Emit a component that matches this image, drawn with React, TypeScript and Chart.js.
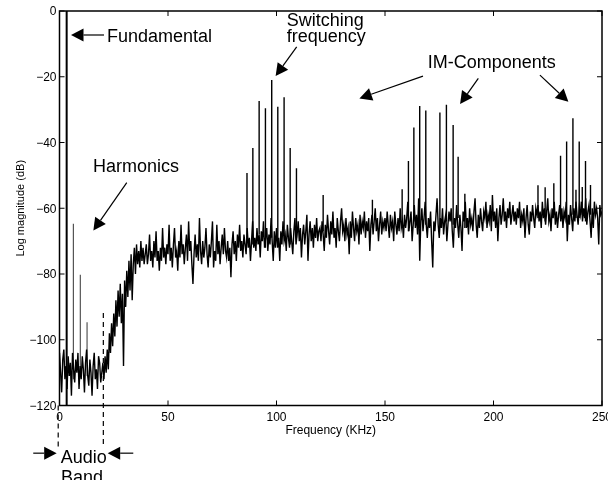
import React, { useEffect, useRef } from "react";
import { Chart, registerables } from "chart.js";

Chart.register(...registerables);

// ---- Spectrum noise floor (dB), sampled every 0.5 kHz from 0 to 250 kHz ----
const NOISE_START_KHZ = 0;
const NOISE_STEP_KHZ = 0.5;
const noiseFloorDb = [
  -104,-110,-116,-106,-103,-112,-108,-115,-105,-111,-107,-117,-104,-109,-113,-106,-110,-104,-115,-108,
  -112,-105,-109,-116,-107,-103,-111,-114,-106,-110,-117,-108,-104,-112,-109,-115,-105,-107,-113,-110,
  -107,-112,-105,-110,-103,-109,-98,-104,-95,-102,-92,-99,-88,-96,-85,-93,-83,-95,-86,-108,
  -82,-90,-79,-87,-76,-85,-74,-88,-77,-72,-80,-71,-77,-73,-78,-70,-76,-72,-77,-74,
  -71,-77,-74,-68,-76,-73,-78,-70,-75,-67,-76,-73,-79,-72,-76,-66,-75,-72,-77,-71,
  -74,-65,-76,-72,-78,-71,-66,-75,-73,-79,-70,-75,-65,-74,-71,-77,-72,-68,-76,-64,
  -73,-70,-77,-83,-74,-68,-75,-71,-76,-63,-73,-77,-70,-75,-72,-66,-74,-78,-71,-75,
  -70,-64,-78,-73,-76,-65,-74,-70,-77,-72,-68,-74,-66,-73,-75,-70,-76,-72,-81,-71,
  -67,-74,-70,-76,-68,-72,-65,-73,-70,-75,-68,-71,-74,-66,-72,-69,-76,-70,-64,-72,
  -69,-73,-66,-71,-68,-75,-67,-70,-64,-72,-69,-66,-73,-68,-71,-63,-70,-76,-67,-72,
  -66,-72,-69,-76,-67,-71,-64,-70,-68,-73,-65,-69,-72,-66,-70,-74,-67,-63,-71,-68,
  -64,-70,-66,-75,-68,-65,-71,-67,-62,-76,-68,-64,-70,-66,-72,-65,-69,-63,-70,-67,
  -66,-70,-64,-68,-73,-65,-69,-62,-67,-71,-64,-68,-61,-69,-66,-72,-63,-67,-70,-64,
  -60,-67,-65,-70,-63,-68,-66,-74,-64,-69,-61,-66,-70,-63,-67,-65,-71,-62,-68,-64,
  -66,-61,-69,-64,-67,-63,-73,-65,-62,-68,-64,-60,-67,-63,-70,-65,-61,-68,-64,-66,
  -63,-67,-61,-65,-69,-62,-66,-64,-70,-61,-65,-68,-63,-67,-60,-66,-64,-69,-62,-66,
  -63,-58,-67,-64,-61,-70,-65,-59,-66,-62,-68,-57,-76,-64,-60,-67,-63,-58,-65,-69,
  -63,-66,-61,-70,-78,-64,-67,-62,-57,-65,-69,-63,-66,-60,-68,-64,-62,-70,-65,-61,
  -64,-60,-67,-72,-63,-66,-59,-65,-69,-62,-66,-73,-61,-64,-58,-66,-63,-68,-60,-65,
  -63,-67,-61,-57,-65,-69,-62,-66,-60,-64,-67,-61,-63,-58,-66,-62,-64,-59,-67,-56,
  -64,-61,-66,-60,-70,-63,-59,-65,-62,-57,-64,-61,-66,-60,-63,-58,-65,-62,-59,-64,
  -61,-65,-60,-63,-58,-66,-62,-64,-60,-69,-63,-59,-65,-68,-61,-64,-59,-63,-66,-60,
  -62,-59,-64,-61,-66,-58,-63,-60,-65,-61,-57,-64,-62,-67,-60,-63,-58,-65,-61,-66,
  -62,-59,-64,-60,-66,-61,-63,-58,-70,-62,-65,-59,-63,-67,-60,-64,-58,-62,-65,-60,
  -62,-58,-64,-60,-63,-57,-65,-61,-59,-64,-69,-60,-66,-58,-62,-60,-63,-71,-59,-62,
  -61,
];

// ---- Discrete spectral lines ----
const fundamentalFreq = [3.3];
const fundamentalPeak = [0];
const fundamentalBase = [-120];

const harmonicFreq = [6.4, 9.6, 12.7];
const harmonicPeak = [-64.7, -80.2, -94.7];
const harmonicBase = [-112, -110, -111];

const sidebandFreq = [
  86.4, 89.1, 92.0, 94.9, 97.8, 100.6, 103.5, 106.3, 109.2,
  121.5, 144.2,
  157.9, 160.8, 163.3, 166.0, 168.8, 175.3, 178.3, 181.4, 183.7, 186.8,
  220.5, 223.8, 227.8, 230.9, 233.7, 236.6, 238.0, 239.5, 240.9, 242.4, 244.7,
];
const sidebandPeak = [
  -49.3, -41.7, -27.4, -29.6, -21.0, -29.1, -26.2, -41.7, -47.8,
  -56.0, -57.4,
  -54.2, -45.6, -35.4, -28.9, -30.3, -30.9, -28.5, -34.7, -44.3, -55.6,
  -53.0, -53.6, -52.4, -44.0, -39.7, -32.6, -54.4, -39.7, -53.5, -45.6, -52.9,
];
const sidebandBase = [
  -70, -71, -68, -72, -69, -70, -68, -71, -69,
  -67, -66,
  -65, -67, -64, -66, -65, -66, -64, -65, -63, -66,
  -63, -64, -62, -63, -64, -62, -63, -63, -62, -64, -62,
];

// ---- Axes ----
const xTickValues = [0, 50, 100, 150, 200, 250];
const yTickValues = [0, -20, -40, -60, -80, -100, -120];
const X_MIN = 0, X_MAX = 250, Y_MIN = -120, Y_MAX = 0;
const xAxisTitle = "Frequency (KHz)";
const yAxisTitle = "Log magnitude (dB)";

// ---- Annotations (data coordinates) ----
const noteTexts = ["Fundamental", "Switching", "frequency", "IM-Components", "Harmonics", "Audio", "Band"];
const noteFreq = [21.9, 104.7, 104.7, 169.7, 15.4, 0.55, 0.7];
const noteDb = [-9.3, -4.6, -9.5, -17.4, -49.0, -137.4, -143.6];

const arrowFromFreq = [20.5, 109.3, 167.5, 193.0, 221.4, 31.0, -12.1, 34.0];
const arrowFromDb = [-7.3, -10.9, -19.8, -20.5, -19.5, -52.2, -134.5, -134.5];
const arrowToFreq = [5.3, 99.6, 138.2, 184.6, 234.5, 15.6, -1.3, 22.2];
const arrowToDb = [-7.3, -19.8, -26.6, -28.3, -27.6, -66.8, -134.5, -134.5];

const dashFreq = [-0.6, 20.2];
const dashTopDb = [-120, -91.9];
const dashBottomDb = [-132.6, -132.6];

const FONT = '"Liberation Sans", Arial, Helvetica, sans-serif';

function segments(freq: number[], base: number[], peak: number[]) {
  const out: { x: number; y: number | null }[] = [];
  freq.forEach((f, i) => {
    out.push({ x: f, y: base[i] });
    out.push({ x: f, y: peak[i] });
    out.push({ x: f, y: null });
  });
  return out;
}

function drawArrow(ctx: CanvasRenderingContext2D, x1: number, y1: number, x2: number, y2: number) {
  const headLen = 12.5;
  const headHalf = 6.5;
  const ang = Math.atan2(y2 - y1, x2 - x1);
  const bx = x2 - headLen * Math.cos(ang);
  const by = y2 - headLen * Math.sin(ang);
  ctx.beginPath();
  ctx.moveTo(x1, y1);
  ctx.lineTo(bx, by);
  ctx.stroke();
  ctx.beginPath();
  ctx.moveTo(x2, y2);
  ctx.lineTo(bx + headHalf * Math.sin(ang), by - headHalf * Math.cos(ang));
  ctx.lineTo(bx - headHalf * Math.sin(ang), by + headHalf * Math.cos(ang));
  ctx.closePath();
  ctx.fill();
}

const fmt = (v: number) => (v < 0 ? "\u2212" + Math.abs(v) : String(v));

const decorPlugin = {
  id: "decor",
  afterDraw(chart: any) {
    const { ctx, chartArea: a, scales } = chart;
    const xs = scales.x;
    const ys = scales.y;
    ctx.save();
    ctx.strokeStyle = "#000";
    ctx.fillStyle = "#000";

    // box
    ctx.lineWidth = 1.5;
    ctx.strokeRect(a.left, a.top, a.right - a.left, a.bottom - a.top);

    // inward ticks
    ctx.lineWidth = 1;
    ctx.beginPath();
    xTickValues.forEach((v) => {
      const px = xs.getPixelForValue(v);
      ctx.moveTo(px, a.bottom);
      ctx.lineTo(px, a.bottom - 5);
      ctx.moveTo(px, a.top);
      ctx.lineTo(px, a.top + 5);
    });
    yTickValues.forEach((v) => {
      const py = ys.getPixelForValue(v);
      ctx.moveTo(a.left, py);
      ctx.lineTo(a.left + 5, py);
      ctx.moveTo(a.right, py);
      ctx.lineTo(a.right - 5, py);
    });
    ctx.stroke();

    // tick labels
    ctx.font = "12px " + FONT;
    ctx.textBaseline = "alphabetic";
    ctx.textAlign = "center";
    xTickValues.forEach((v) => {
      ctx.fillText(fmt(v), xs.getPixelForValue(v), a.bottom + 15);
    });
    ctx.textAlign = "right";
    yTickValues.forEach((v) => {
      ctx.fillText(fmt(v), a.left - 3, ys.getPixelForValue(v) + 4.3);
    });

    // axis titles
    ctx.textAlign = "center";
    ctx.fillText(xAxisTitle, (a.left + a.right) / 2, a.bottom + 28);
    ctx.save();
    ctx.font = "11px " + FONT;
    ctx.translate(24, (a.top + a.bottom) / 2);
    ctx.rotate(-Math.PI / 2);
    ctx.fillText(yAxisTitle, 0, 0);
    ctx.restore();

    // dashed audio-band markers
    ctx.setLineDash([5, 4]);
    ctx.lineWidth = 1.2;
    dashFreq.forEach((f, i) => {
      const px = xs.getPixelForValue(f);
      ctx.beginPath();
      ctx.moveTo(px, ys.getPixelForValue(dashTopDb[i]));
      ctx.lineTo(px, ys.getPixelForValue(dashBottomDb[i]));
      ctx.stroke();
    });
    ctx.setLineDash([]);

    // arrows
    ctx.lineWidth = 1.2;
    arrowFromFreq.forEach((f, i) => {
      drawArrow(
        ctx,
        xs.getPixelForValue(f),
        ys.getPixelForValue(arrowFromDb[i]),
        xs.getPixelForValue(arrowToFreq[i]),
        ys.getPixelForValue(arrowToDb[i])
      );
    });

    // annotation texts
    ctx.font = "18px " + FONT;
    ctx.textAlign = "left";
    ctx.textBaseline = "alphabetic";
    noteTexts.forEach((t, i) => {
      ctx.fillText(t, xs.getPixelForValue(noteFreq[i]), ys.getPixelForValue(noteDb[i]));
    });

    ctx.restore();
  },
};

export default function App() {
  const canvasRef = useRef<HTMLCanvasElement | null>(null);

  useEffect(() => {
    const canvas = canvasRef.current;
    if (!canvas) return;
    const noiseData = noiseFloorDb.map((v, i) => ({ x: NOISE_START_KHZ + i * NOISE_STEP_KHZ, y: v }));
    const lineStyle = { pointRadius: 0, pointHoverRadius: 0, tension: 0, spanGaps: false, fill: false };
    const chart = new Chart(canvas, {
      type: "line",
      data: {
        datasets: [
          { ...lineStyle, label: "noise", data: noiseData, borderColor: "#000", borderWidth: 1.4 },
          {
            ...lineStyle,
            label: "sidebands",
            data: segments(sidebandFreq, sidebandBase, sidebandPeak),
            borderColor: "#000",
            borderWidth: 1.4,
          },
          {
            ...lineStyle,
            label: "harmonics",
            data: segments(harmonicFreq, harmonicBase, harmonicPeak),
            borderColor: "#555",
            borderWidth: 1.2,
          },
          {
            ...lineStyle,
            label: "fundamental",
            data: segments(fundamentalFreq, fundamentalBase, fundamentalPeak),
            borderColor: "#000",
            borderWidth: 2,
          },
        ] as any,
      },
      options: {
        animation: false,
        responsive: false,
        devicePixelRatio: 1,
        events: [],
        layout: { padding: { top: 11, right: 6, left: 0, bottom: 0 } },
        plugins: { legend: { display: false }, tooltip: { enabled: false } },
        scales: {
          x: {
            type: "linear",
            min: X_MIN,
            max: X_MAX,
            offset: false,
            grid: { display: false },
            border: { display: false },
            ticks: { display: false },
            afterFit: (s: any) => {
              s.height = 74.5;
            },
          },
          y: {
            type: "linear",
            min: Y_MIN,
            max: Y_MAX,
            grid: { display: false },
            border: { display: false },
            ticks: { display: false },
            afterFit: (s: any) => {
              s.width = 59.5;
            },
          },
        },
      } as any,
      plugins: [decorPlugin],
    });
    return () => chart.destroy();
  }, []);

  return (
    <div style={{ position: "absolute", left: 0, top: 0, width: 608, height: 480, background: "#fff" }}>
      <canvas ref={canvasRef} width={608} height={480} style={{ display: "block" }} />
    </div>
  );
}
